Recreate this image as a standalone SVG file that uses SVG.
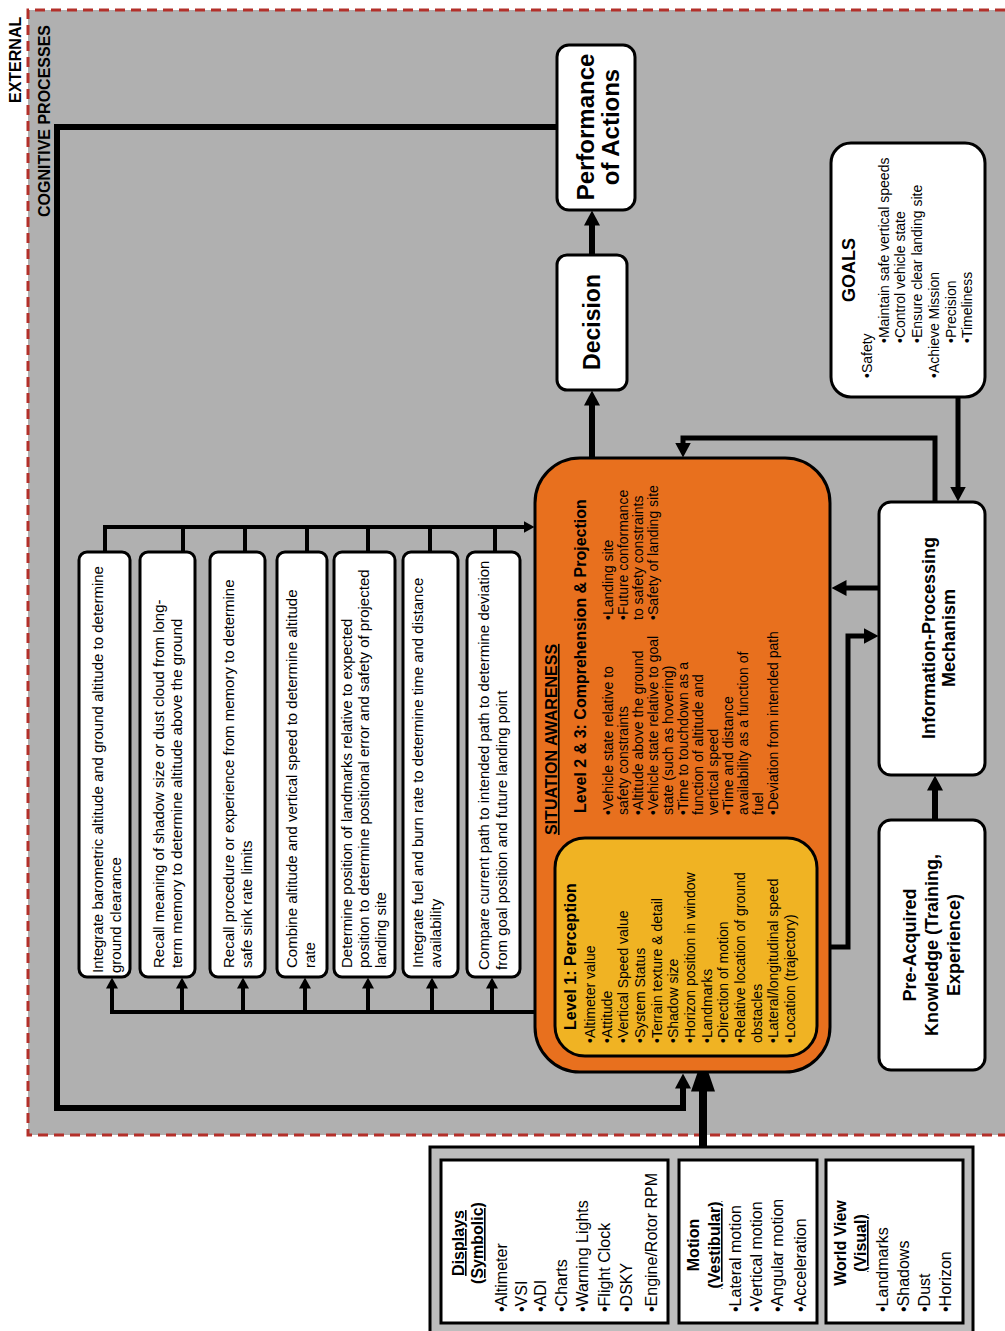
<svg xmlns="http://www.w3.org/2000/svg" width="1005" height="1331" viewBox="0 0 1005 1331">
<style>
text{font-family:"Liberation Sans",Arial,sans-serif;fill:#000}
.b{font-weight:bold}
.s14{font-size:14px}
.s15{font-size:15px}
.s16{font-size:16px}
.box{fill:#fff;stroke:#000;stroke-width:3}
.ln{fill:none;stroke:#000;stroke-linejoin:miter}
.u{text-decoration:underline}
</style>
<defs>
<marker id="ah" markerUnits="userSpaceOnUse" markerWidth="15" markerHeight="16" viewBox="0 0 15 16" refX="0.5" refY="8" orient="auto"><path d="M0,0 L15,8 L0,16 z"/></marker>
<marker id="ahs" markerUnits="userSpaceOnUse" markerWidth="11" markerHeight="12" viewBox="0 0 11 12" refX="0.5" refY="6" orient="auto"><path d="M0,0 L11,6 L0,12 z"/></marker>
<marker id="ahb" markerUnits="userSpaceOnUse" markerWidth="35" markerHeight="24" viewBox="0 0 35 24" refX="0.5" refY="12" orient="auto"><path d="M0,0 L35,12 L0,24 z"/></marker>
</defs>

<rect width="1005" height="1331" fill="#fff"/>
<rect x="28" y="10" width="977" height="1125" fill="#b0b0b0"/>
<path d="M1005,10 H28 V1135 H1005" fill="none" stroke="#b3302a" stroke-width="3" stroke-dasharray="10,6"/>
<text class="b s16" transform="translate(21,103) rotate(-90)">EXTERNAL</text>
<text class="b s16" transform="translate(50,217) rotate(-90)">COGNITIVE PROCESSES</text>

<g id="connectors">
  <path class="ln" stroke-width="6" d="M557,127 H57 V1108 H683 V1088" marker-end="url(#ah)"/>
  <path class="ln" stroke-width="8" d="M703,1147 V1091" marker-end="url(#ahb)"/>
  <path class="ln" stroke-width="6" d="M592,458 V405" marker-end="url(#ah)"/>
  <path class="ln" stroke-width="6" d="M592,255 V225" marker-end="url(#ah)"/>
  <path class="ln" stroke-width="5" d="M958,397 V487" marker-end="url(#ah)"/>
  <path class="ln" stroke-width="5" d="M935,502 V438 H683 V443" marker-end="url(#ah)"/>
  <path class="ln" stroke-width="5" d="M879,588 H846" marker-end="url(#ah)"/>
  <path class="ln" stroke-width="5" d="M817,947 H848 V636 H864" marker-end="url(#ah)"/>
  <path class="ln" stroke-width="6" d="M935,820 V790" marker-end="url(#ah)"/>
  <path class="ln" stroke-width="4" d="M537,1012 H110"/>
  <path class="ln" stroke-width="4" d="M112,1012 V988" marker-end="url(#ahs)"/>
  <path class="ln" stroke-width="4" d="M182,1012 V988" marker-end="url(#ahs)"/>
  <path class="ln" stroke-width="4" d="M243,1012 V988" marker-end="url(#ahs)"/>
  <path class="ln" stroke-width="4" d="M305,1012 V988" marker-end="url(#ahs)"/>
  <path class="ln" stroke-width="4" d="M368,1012 V988" marker-end="url(#ahs)"/>
  <path class="ln" stroke-width="4" d="M432,1012 V988" marker-end="url(#ahs)"/>
  <path class="ln" stroke-width="4" d="M492,1012 V988" marker-end="url(#ahs)"/>
  <path class="ln" stroke-width="4" d="M105,552 V527"/>
  <path class="ln" stroke-width="4" d="M183,552 V527"/>
  <path class="ln" stroke-width="4" d="M245,552 V527"/>
  <path class="ln" stroke-width="4" d="M307,552 V527"/>
  <path class="ln" stroke-width="4" d="M368,552 V527"/>
  <path class="ln" stroke-width="4" d="M430,552 V527"/>
  <path class="ln" stroke-width="4" d="M495,552 V527"/>
  <path class="ln" stroke-width="4" d="M103,527 H524" marker-end="url(#ahs)"/>
</g>

<g id="performance">
  <rect class="box" x="557" y="45" width="78" height="165" rx="12"/>
  <text class="b" font-size="24" text-anchor="middle" transform="translate(594,127) rotate(-90)">Performance<tspan x="0" dy="25">of Actions</tspan></text>
</g>
<g id="decision">
  <rect class="box" x="557" y="255" width="70" height="135" rx="10"/>
  <text class="b" font-size="23" text-anchor="middle" transform="translate(600,322) rotate(-90)">Decision</text>
</g>
<g id="goals">
  <rect class="box" x="831" y="143" width="154" height="254" rx="20"/>
  <text class="b" font-size="18" text-anchor="middle" transform="translate(855,270) rotate(-90)">GOALS</text>
  <text class="s14" transform="translate(872,378) rotate(-90)">•Safety<tspan x="35" dy="16.7">•Maintain safe vertical speeds</tspan><tspan x="35" dy="16.7">•Control vehicle state</tspan><tspan x="35" dy="16.7">•Ensure clear landing site</tspan><tspan x="0" dy="16.7">•Achieve Mission</tspan><tspan x="35" dy="16.7">•Precision</tspan><tspan x="35" dy="16.7">•Timeliness</tspan></text>
</g>
<g id="info-processing">
  <rect class="box" x="879" y="502" width="106" height="273" rx="12"/>
  <text class="b" font-size="18" text-anchor="middle" transform="translate(935,638) rotate(-90)">Information-Processing<tspan x="0" dy="20">Mechanism</tspan></text>
</g>
<g id="pre-acquired">
  <rect class="box" x="879" y="820" width="106" height="250" rx="12"/>
  <text class="b" font-size="18" text-anchor="middle" transform="translate(916,945) rotate(-90)">Pre-Acquired<tspan x="0" dy="22">Knowledge (Training,</tspan><tspan x="0" dy="22">Experience)</tspan></text>
</g>

<g id="situation-awareness">
  <rect x="535" y="458" width="295" height="614" rx="45" fill="#e8701e" stroke="#000" stroke-width="3"/>
  <text class="b s16 u" transform="translate(557,835) rotate(-90)">SITUATION AWARENESS</text>
  <text class="b s16" transform="translate(586,813) rotate(-90)">Level 2 &amp; 3: Comprehension &amp; Projection</text>
  <text class="s14" transform="translate(613,815) rotate(-90)">•Vehicle state relative to<tspan x="0" dy="15">safety constraints</tspan><tspan x="0" dy="15">•Altitude above the ground</tspan><tspan x="0" dy="15">•Vehicle state relative to goal</tspan><tspan x="0" dy="15">state (such as hovering)</tspan><tspan x="0" dy="15">•Time to touchdown as a</tspan><tspan x="0" dy="15">function of altitude and</tspan><tspan x="0" dy="15">vertical speed</tspan><tspan x="0" dy="15">•Time and distance</tspan><tspan x="0" dy="15">availability as a function of</tspan><tspan x="0" dy="15">fuel</tspan><tspan x="0" dy="15">•Deviation from intended path</tspan></text>
  <text class="s14" transform="translate(613,620) rotate(-90)">•Landing site<tspan x="0" dy="15">•Future conformance</tspan><tspan x="0" dy="15">to safety constraints</tspan><tspan x="0" dy="15">•Safety of landing site</tspan></text>
</g>
<g id="level1-perception">
  <rect x="555" y="838" width="262" height="218" rx="30" fill="#f0b323" stroke="#000" stroke-width="3"/>
  <text class="b s16" transform="translate(576,1030) rotate(-90)">Level 1: Perception</text>
  <text class="s14" transform="translate(595,1043) rotate(-90)">•Altimeter value<tspan x="0" dy="16.67">•Attitude</tspan><tspan x="0" dy="16.67">•Vertical Speed value</tspan><tspan x="0" dy="16.67">•System Status</tspan><tspan x="0" dy="16.67">•Terrain texture &amp; detail</tspan><tspan x="0" dy="16.67">•Shadow size</tspan><tspan x="0" dy="16.67">•Horizon position in window</tspan><tspan x="0" dy="16.67">•Landmarks</tspan><tspan x="0" dy="16.67">•Direction of motion</tspan><tspan x="0" dy="16.67">•Relative location of ground</tspan><tspan x="0" dy="16.67">obstacles</tspan><tspan x="0" dy="16.67">•Lateral/longitudinal speed</tspan><tspan x="0" dy="16.67">•Location (trajectory)</tspan></text>
</g>

<g id="task1">
  <rect class="box" x="79" y="552" width="51" height="425" rx="8"/>
  <text class="s15" transform="translate(103,973) rotate(-90)">Integrate barometric altitude and ground altitude to determine<tspan x="0" dy="18">ground clearance</tspan></text>
</g>
<g id="task2">
  <rect class="box" x="140" y="552" width="55" height="425" rx="8"/>
  <text class="s15" transform="translate(164,968) rotate(-90)">Recall meaning of shadow size or dust cloud from long-<tspan x="0" dy="18">term memory to determine altitude above the ground</tspan></text>
</g>
<g id="task3">
  <rect class="box" x="210" y="552" width="55" height="425" rx="8"/>
  <text class="s15" transform="translate(234,968) rotate(-90)">Recall procedure or experience from memory to determine<tspan x="0" dy="18">safe sink rate limits</tspan></text>
</g>
<g id="task4">
  <rect class="box" x="277" y="552" width="50" height="425" rx="8"/>
  <text class="s15" transform="translate(297,968) rotate(-90)">Combine altitude and vertical speed to determine altitude<tspan x="0" dy="18">rate</tspan></text>
</g>
<g id="task5">
  <rect class="box" x="334" y="552" width="61" height="425" rx="8"/>
  <text class="s15" transform="translate(352,968) rotate(-90)">Determine position of landmarks relative to expected<tspan x="0" dy="17">position to determine positional error and safety of projected</tspan><tspan x="0" dy="17">landing site</tspan></text>
</g>
<g id="task6">
  <rect class="box" x="403" y="552" width="55" height="425" rx="8"/>
  <text class="s15" transform="translate(423,968) rotate(-90)">Integrate fuel and burn rate to determine time and distance<tspan x="0" dy="18">availability</tspan></text>
</g>
<g id="task7">
  <rect class="box" x="467" y="552" width="53" height="425" rx="8"/>
  <text class="s15" transform="translate(489,970) rotate(-90)">Compare current path to intended path to determine deviation<tspan x="0" dy="18">from goal position and future landing point</tspan></text>
</g>

<g id="inputs">
  <rect x="430" y="1147" width="543" height="200" fill="#bdbdbd" stroke="#000" stroke-width="3"/>
  <g id="displays">
    <rect class="box" x="441" y="1160" width="227" height="163"/>
    <text class="b s16 u" text-anchor="middle" transform="translate(464,1243) rotate(-90)">Displays<tspan x="0" dy="19">(Symbolic)</tspan></text>
    <text class="s16" transform="translate(507,1312) rotate(-90)">•Altimeter<tspan x="0" dy="20">•VSI</tspan><tspan x="0" dy="19">•ADI</tspan><tspan x="0" dy="21">•Charts</tspan><tspan x="0" dy="21">•Warning Lights</tspan><tspan x="0" dy="22">•Flight Clock</tspan><tspan x="0" dy="22">•DSKY</tspan><tspan x="0" dy="25">•Engine/Rotor RPM</tspan></text>
  </g>
  <g id="motion">
    <rect class="box" x="679" y="1160" width="138" height="163"/>
    <text class="b s16" text-anchor="middle" transform="translate(699,1245) rotate(-90)">Motion<tspan class="u" x="0" dy="21">(Vestibular)</tspan></text>
    <text class="s16" transform="translate(741,1312) rotate(-90)">•Lateral motion<tspan x="0" dy="21">•Vertical motion</tspan><tspan x="0" dy="21">•Angular motion</tspan><tspan x="0" dy="23">•Acceleration</tspan></text>
  </g>
  <g id="world-view">
    <rect class="box" x="826" y="1160" width="137" height="163"/>
    <text class="b s16" text-anchor="middle" transform="translate(846,1243) rotate(-90)">World View<tspan class="u" x="0" dy="20">(Visual)</tspan></text>
    <text class="s16" transform="translate(888,1312) rotate(-90)">•Landmarks<tspan x="0" dy="21">•Shadows</tspan><tspan x="0" dy="21">•Dust</tspan><tspan x="0" dy="21">•Horizon</tspan></text>
  </g>
</g>
</svg>
